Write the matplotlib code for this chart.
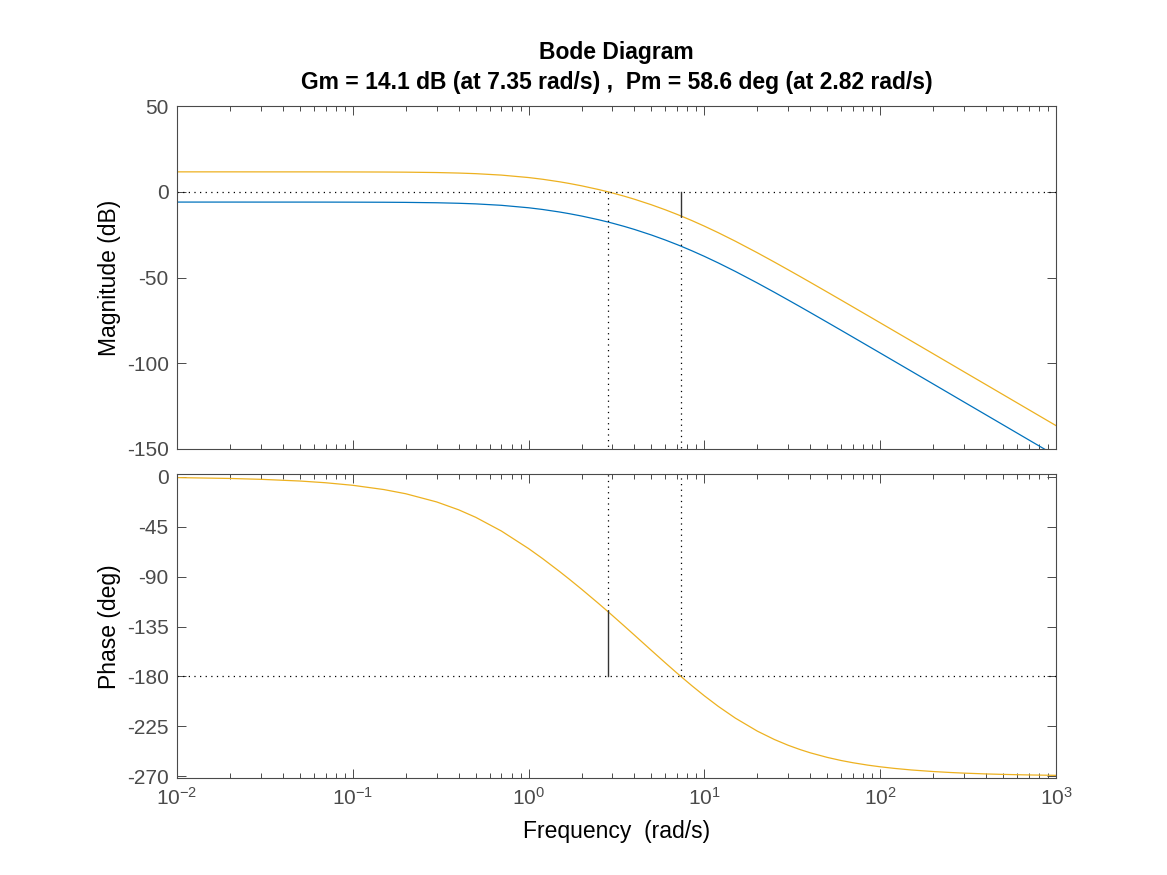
import numpy as np
import matplotlib
matplotlib.use('Agg')
import matplotlib.pyplot as plt
from matplotlib.ticker import LogLocator, NullFormatter, FixedLocator

plt.rcParams['font.family'] = ['Liberation Sans', 'DejaVu Sans']
plt.rcParams['axes.unicode_minus'] = False

# ----------- data -----------
freq = [0.01, 0.02, 0.03, 0.05, 0.07, 0.1, 0.15, 0.2, 0.3, 0.4, 0.5, 0.7, 1.0, 1.2,
        1.5, 1.7, 2.0, 2.5, 2.82, 3.0, 3.5, 4.0, 5.0, 6.0, 7.0, 7.35, 8.5, 10.0, 12.0,
        15.0, 20.0, 25.0, 30.0, 35.0, 40.0, 50.0, 60.0, 70.0, 85.0, 100.0, 120.0,
        150.0, 200.0, 250.0, 300.0, 400.0, 500.0, 700.0, 1000.0]

mag_blue = [-6.02, -6.02, -6.03, -6.03, -6.04, -6.07, -6.12, -6.20, -6.42, -6.72,
            -7.07, -7.91, -9.34, -10.33, -11.81, -12.77, -14.15, -16.32, -17.62,
            -18.33, -20.21, -21.98, -25.23, -28.16, -30.83, -31.71, -34.45, -37.68,
            -41.51, -46.46, -53.19, -58.62, -63.15, -67.02, -70.41, -76.12, -80.81,
            -84.79, -89.82, -94.03, -98.77, -104.57, -112.06, -117.87, -122.63,
            -130.11, -135.92, -144.69, -153.98]

mag_yellow = [11.60, 11.60, 11.59, 11.59, 11.58, 11.55, 11.50, 11.42, 11.20, 10.90,
              10.55, 9.71, 8.28, 7.29, 5.81, 4.85, 3.47, 1.30, 0.00,
              -0.71, -2.59, -4.36, -7.61, -10.54, -13.21, -14.10, -16.83, -20.06,
              -23.89, -28.84, -35.57, -41.00, -45.53, -49.40, -52.79, -58.50, -63.19,
              -67.17, -72.20, -76.41, -81.15, -86.95, -94.44, -100.25, -105.01,
              -112.49, -118.30, -127.07, -136.36]

phase = [-0.77, -1.55, -2.32, -3.86, -5.41, -7.72, -11.54, -15.32, -22.71, -29.80,
         -36.55, -48.92, -64.75, -73.73, -85.40, -92.21, -101.31, -114.24, -121.40,
         -125.13, -134.53, -142.76, -156.60, -167.81, -177.12, -180.00, -188.45,
         -197.49, -207.00, -217.57, -229.27, -236.82, -242.07, -245.89, -248.82,
         -252.97, -255.78, -257.78, -259.93, -261.43, -262.85, -264.28, -265.70,
         -266.56, -267.14, -267.86, -268.28, -268.77, -269.14]

gm_db, gm_freq = 14.1, 7.35
pm_deg, pm_freq = 58.6, 2.82

mag_ticks = [-150, -100, -50, 0, 50]
phase_ticks = [-270, -225, -180, -135, -90, -45, 0]

BLUE = '#0072BD'
YELLOW = '#EDB120'
AXC = '#4a4a4a'
DOT = (0, (1, 3.5))


def style_axes(ax):
    ax.set_xscale('log')
    ax.set_xlim(1e-2, 1e3)
    ax.xaxis.set_major_locator(LogLocator(base=10, numticks=10))
    ax.xaxis.set_minor_locator(LogLocator(base=10, subs=np.arange(2, 10), numticks=20))
    ax.xaxis.set_minor_formatter(NullFormatter())
    ax.tick_params(which='both', direction='in', top=True, right=True,
                   colors=AXC, labelsize=15, width=0.7)
    ax.tick_params(which='major', length=6.5, pad=6)
    ax.tick_params(which='minor', length=3.5)
    for sp in ax.spines.values():
        sp.set_color(AXC)
        sp.set_linewidth(0.8)


fig = plt.figure(figsize=(11.67, 8.75), dpi=100)
ax1 = fig.add_axes([177 / 1167, 1 - 449 / 875, 879 / 1167, 343 / 875])
ax2 = fig.add_axes([177 / 1167, 1 - 778.3 / 875, 879 / 1167, 304 / 875])

# ----------- magnitude -----------
ax1.plot(freq, mag_blue, color=BLUE, lw=0.9)
ax1.plot(freq, mag_yellow, color=YELLOW, lw=0.9)
ax1.axhline(0, color='black', lw=0.9, ls=DOT)
ax1.plot([pm_freq, pm_freq], [0, -150], color='black', lw=0.9, ls=DOT)
ax1.plot([gm_freq, gm_freq], [-gm_db, -150], color='black', lw=0.9, ls=DOT)
ax1.plot([gm_freq, gm_freq], [0, -gm_db], color='#333333', lw=1.0)
ax1.set_ylim(-150, 50)
style_axes(ax1)
ax1.yaxis.set_major_locator(FixedLocator(mag_ticks))
ax1.set_xticklabels([])
ax1.set_ylabel('Magnitude (dB)', fontsize=16.5, color='black')
ax1.yaxis.set_label_coords((121 - 177) / 879, 0.5)

# ----------- phase (blue phase lies under the yellow one) -----------
ax2.plot(freq, phase, color=YELLOW, lw=0.9)
ax2.axhline(-180, color='black', lw=0.9, ls=DOT)
ax2.plot([pm_freq, pm_freq], [-180 + pm_deg, 10], color='black', lw=0.9, ls=DOT)
ax2.plot([gm_freq, gm_freq], [-180, 10], color='black', lw=0.9, ls=DOT)
ax2.plot([pm_freq, pm_freq], [-180, -180 + pm_deg], color='#333333', lw=1.0)
ax2.set_ylim(-271.8, 2.2)
style_axes(ax2)
ax2.yaxis.set_major_locator(FixedLocator(phase_ticks))
ax2.set_ylabel('Phase (deg)', fontsize=16.5, color='black')
ax2.yaxis.set_label_coords((121 - 177) / 879, 0.5)
ax2.set_xlabel('Frequency  (rad/s)', fontsize=16.5, color='black')
ax2.xaxis.set_label_coords(0.5, (778.3 - 820) / 304)

# ----------- titles -----------
cx = (177 + 1056) / 2 / 1167
fig.text(cx, 1 - 52 / 875, 'Bode Diagram', ha='center', va='center',
         fontsize=16.5, fontweight='bold')
fig.text(cx, 1 - 82 / 875,
         f'Gm = {gm_db} dB (at {gm_freq} rad/s) ,  Pm = {pm_deg} deg (at {pm_freq} rad/s)',
         ha='center', va='center', fontsize=16.5, fontweight='bold')

fig.savefig('out.png', dpi=100)
